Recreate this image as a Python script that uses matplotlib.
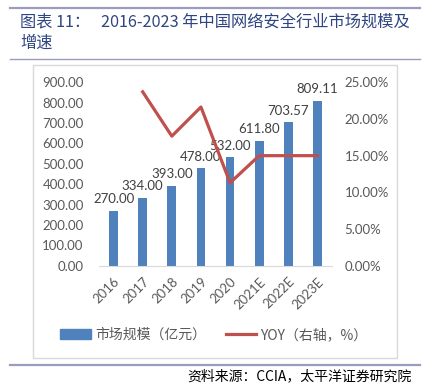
import matplotlib
matplotlib.use("Agg")
import matplotlib.pyplot as plt
from matplotlib.lines import Line2D
from matplotlib.patches import Patch, Rectangle

plt.rcParams['font.family'] = ['Noto Sans CJK SC', 'DejaVu Sans']

# data
years = ["2016", "2017", "2018", "2019", "2020", "2021E", "2022E", "2023E"]
market = [270.00, 334.00, 393.00, 478.00, 532.00, 611.80, 703.57, 809.11]
yoy_years = years[1:]
yoy = [23.70, 17.66, 21.63, 11.30, 15.00, 15.00, 15.00]  # [%]

left_ticks = [0, 100, 200, 300, 400, 500, 600, 700, 800, 900]
right_ticks = [0, 5, 10, 15, 20, 25]

W, H = 425, 392
bar_color = "#4F81BD"
line_color = "#C0504D"
tick_color = "#595959"
num_font = ["Lato", "DejaVu Sans"]

fig = plt.figure(figsize=(W / 100, H / 100), dpi=100)


def px(x0, y0, x1, y1):
    # pixel box (top-left origin) -> figure fraction rect
    return [x0 / W, 1 - y1 / H, (x1 - x0) / W, (y1 - y0) / H]


# chart frame
fig.patches.append(Rectangle((33 / W, 1 - 358 / H), 364 / W, 293 / H,
                             transform=fig.transFigure, fill=False,
                             edgecolor="#D9D9D9", linewidth=1))

# rules
for y, lw in [(8, 1.6), (59, 1.0), (365, 1.6)]:
    fig.add_artist(Line2D([10 / W, 420 / W], [1 - y / H, 1 - y / H],
                          color="#9C9CC0", linewidth=lw))

# title
fig.text(20 / W, 1 - 22 / H, "图表 11：   2016-2023 年中国网络安全行业市场规模及",
         fontsize=11.7, color="#2E4580", va="center", ha="left")
fig.text(20 / W, 1 - 43 / H, "增速", fontsize=11.7, color="#2E4580",
         va="center", ha="left")

ax = fig.add_axes(px(99, 82.3, 332, 265.7))
x = list(range(len(years)))
ax.bar(x, market, width=0.3, color=bar_color, zorder=2)
for xi, v in zip(x, market):
    ax.annotate(f"{v:.2f}", (xi, v), xytext=(0, 4), textcoords="offset points",
                ha="center", va="bottom", fontsize=9.5, color="#404040",
                family=num_font)

ax.set_xlim(-0.5, len(years) - 0.5)
ax.set_ylim(0, 900)
ax.set_yticks(left_ticks)
ax.set_yticklabels([f"{t:.2f}" for t in left_ticks], family=num_font)
ax.set_xticks(x)
ax.set_xticklabels(years, rotation=45, ha="right", rotation_mode="anchor",
                   family=num_font)
ax.tick_params(axis="both", length=0, colors=tick_color, labelsize=9.5)
ax.tick_params(axis="y", pad=11)
ax.tick_params(axis="x", pad=7)
for s in ["top", "right", "left"]:
    ax.spines[s].set_visible(False)
ax.spines["bottom"].set_color("#D9D9D9")

ax2 = ax.twinx()
ax2.plot([years.index(y) for y in yoy_years], yoy, color=line_color,
         linewidth=2.3, zorder=3)
ax2.set_ylim(0, 25)
ax2.set_yticks(right_ticks)
ax2.set_yticklabels([f"{t:.2f}%" for t in right_ticks], family=num_font)
ax2.tick_params(axis="y", length=0, colors=tick_color, labelsize=9.5, pad=9)
for s in ax2.spines.values():
    s.set_visible(False)

handles = [Patch(color=bar_color), Line2D([], [], color=line_color, linewidth=2.3)]
fig.legend(handles, ["市场规模（亿元）", "YOY（右轴，%）"], loc="center",
           bbox_to_anchor=(214 / W, 1 - 335 / H), ncol=2, frameon=False,
           labelcolor=tick_color, handlelength=2.2,
           columnspacing=1.4, handletextpad=0.3,
           prop={"family": ["Noto Sans CJK SC", "DejaVu Sans"], "size": 10})

fig.text(412 / W, 1 - 376 / H, "资料来源：CCIA，太平洋证券研究院", fontsize=10,
         ha="right", va="center", style="italic", color="#000000")

fig.savefig("out.png", dpi=100)
